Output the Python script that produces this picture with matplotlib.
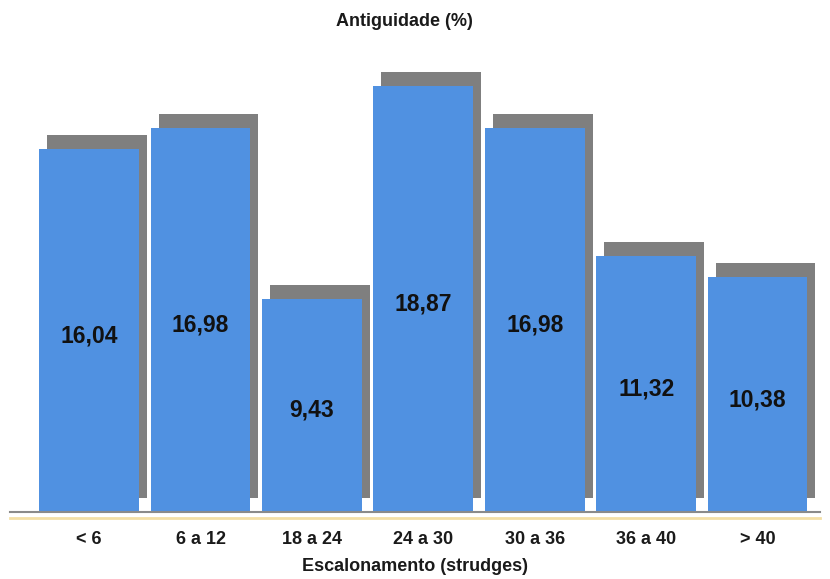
import matplotlib.pyplot as plt
import matplotlib.transforms as mtransforms
import numpy as np

plt.rcParams['font.family'] = ['Liberation Sans', 'DejaVu Sans']

categories = ['< 6', '6 a 12', '18 a 24', '24 a 30', '30 a 36', '36 a 40', '> 40']
valores = [16.04, 16.98, 9.43, 18.87, 16.98, 11.32, 10.38]
rotulos = ['16,04', '16,98', '9,43', '18,87', '16,98', '11,32', '10,38']

azul = '#5091e1'
sombra = '#7f7f7f'

fig = plt.figure(figsize=(8.3, 5.79), dpi=100)
ax = fig.add_axes([10/830, 67/579, 810/830, 452/579])

x = np.arange(len(categories))
width = 0.895

# shadow: same bars shifted right/up by a few pixels
offset = mtransforms.ScaledTranslation(8/100, 14/100, fig.dpi_scale_trans)
ax.bar(x, valores, width, color=sombra, transform=ax.transData + offset, zorder=1)
ax.bar(x, valores, width, color=azul, zorder=2)

# value labels, a little below half height
down = mtransforms.ScaledTranslation(0, -5/100, fig.dpi_scale_trans)
for xi, v, lab in zip(x, valores, rotulos):
    ax.text(xi, v/2, lab, ha='center', va='center', fontsize=16.5,
            fontweight='bold', color='#111111', zorder=3,
            transform=ax.transData + down)

ax.set_xlim(-0.71, 6.56)
ax.set_ylim(0, 20)

for s in ['top', 'right', 'left']:
    ax.spines[s].set_visible(False)
ax.spines['bottom'].set_color('#8a8a8a')
ax.spines['bottom'].set_linewidth(1.5)
ax.set_yticks([])
ax.set_xticks(x)
ax.set_xticklabels(categories, fontsize=13, fontweight='bold', color='#1a1a1a')
ax.tick_params(axis='x', length=0, pad=14)

# light tan line under the axis
ax.axhline(-0.25, color='#f3dfa6', lw=2, clip_on=False, zorder=0)

ax.set_xlabel('Escalonamento (strudges)', fontsize=13, fontweight='bold',
              color='#1a1a1a', labelpad=7)
fig.text(404/830, 1 - 22/579, 'Antiguidade (%)', ha='center', va='center',
         fontsize=13, fontweight='bold', color='#1a1a1a')

fig.savefig('out.png', dpi=100)
